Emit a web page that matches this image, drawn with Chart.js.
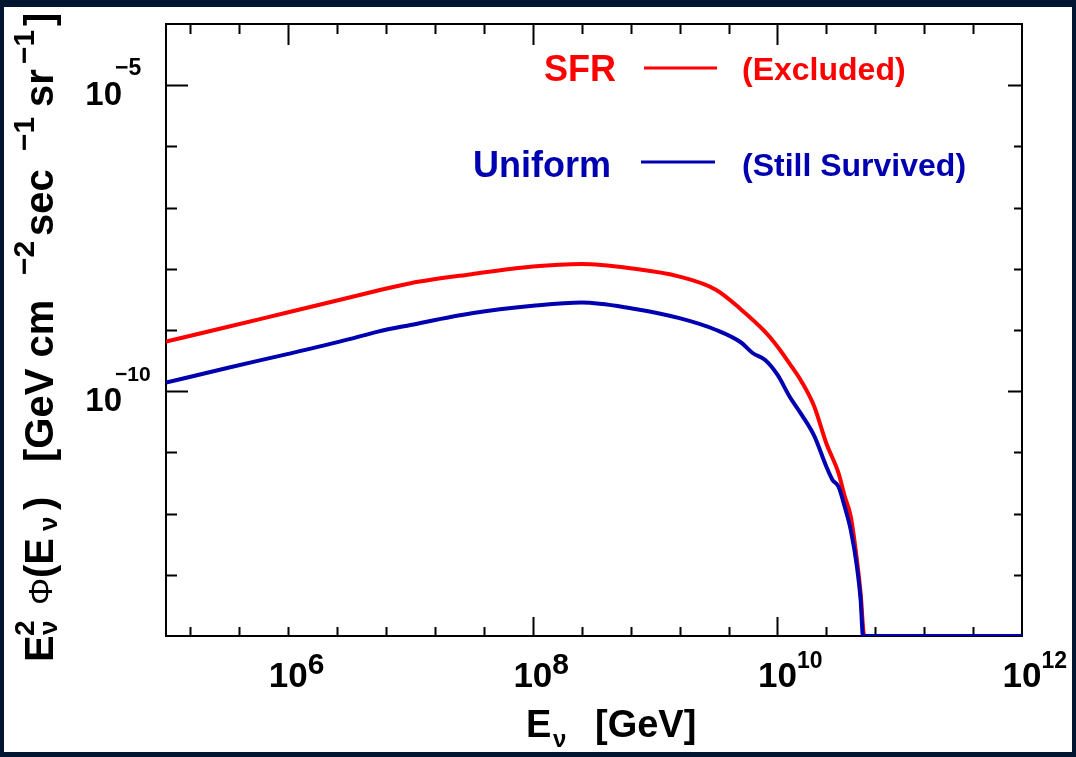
<!DOCTYPE html>
<html>
<head>
<meta charset="utf-8">
<script src="https://cdn.jsdelivr.net/npm/chart.js@4.4.1/dist/chart.umd.min.js"></script>
<style>
  html, body { margin: 0; padding: 0; background: #031631; }
  canvas { display: block; }
</style>
</head>
<body>
<canvas id="fluxChart" width="1076" height="757"></canvas>
<script>
// neutrino energy [GeV] and E^2 phi(E) [GeV cm^-2 s^-1 sr^-1]
const sfrEnergy = [1e5, 3.16e5, 1e6, 3.16e6, 5.41e6, 1e7, 3.16e7, 1e8, 2.51e8, 6.31e8, 1.58e9, 3.16e9,
  5.01e9, 7.94e9, 1e10, 1.26e10, 1.58e10, 2.0e10, 2.51e10, 3.16e10, 3.55e10, 3.98e10, 4.47e10,
  4.79e10, 5.13e10, 1e11, 1e12];
const sfrFlux = [6.46e-10, 1.12e-9, 1.95e-9, 3.39e-9, 4.41e-9, 5.82e-9, 8.17e-9, 1.09e-8, 1.20e-8, 1.02e-8,
  7.46e-9, 4.52e-9, 2.19e-9, 9.33e-10, 5.37e-10, 2.80e-10, 1.42e-10, 5.62e-11, 1.41e-11, 4.57e-12,
  1.91e-12, 8.91e-13, 1.74e-13, 5.0e-14, 1e-14, 1e-14, 1e-14];

const uniEnergy = [1e5, 3.16e5, 1e6, 3.16e6, 5.41e6, 1e7, 3.16e7, 1e8, 2.51e8, 6.31e8, 1.58e9, 3.16e9,
  5.01e9, 6.31e9, 7.94e9, 1e10, 1.26e10, 1.58e10, 2.0e10, 2.51e10, 2.82e10, 3.16e10, 3.55e10,
  3.98e10, 4.47e10, 4.79e10, 5.01e10, 1e11, 1e12];
const uniFlux = [1.38e-10, 2.40e-10, 4.07e-10, 7.08e-10, 9.42e-10, 1.21e-9, 1.88e-9, 2.48e-9, 2.81e-9, 2.27e-9,
  1.56e-9, 1.0e-9, 6.31e-10, 4.17e-10, 3.24e-10, 1.86e-10, 8.13e-11, 4.11e-11, 1.86e-11, 5.89e-12,
  3.55e-12, 2.75e-12, 1.29e-12, 5.37e-13, 1.35e-13, 3.89e-14, 1e-14, 1e-14, 1e-14];

const seriesNames = ['SFR', 'Uniform'];
const seriesNotes = ['(Excluded)', '(Still Survived)'];
const seriesColors = ['#ff0000', '#0000b0'];

// labelled decades on each axis
const xLabelExp = [6, 8, 10, 12];
const yLabelExp = [-5, -10];

const FONT = '"Liberation Sans", Arial, Helvetica, sans-serif';

function pts(xs, ys) {
  return xs.map((v, i) => ({ x: v, y: ys[i] }));
}

function txt(ctx, s, x, y, size, color, align, weight) {
  ctx.font = (weight || 'bold') + ' ' + size + 'px ' + FONT;
  ctx.fillStyle = color || '#000';
  ctx.textAlign = align || 'left';
  ctx.textBaseline = 'alphabetic';
  ctx.fillText(s, x, y);
}

function rotText(ctx, s, bx, startY, size, weight) {
  ctx.save();
  ctx.translate(bx, startY);
  ctx.rotate(-Math.PI / 2);
  txt(ctx, s, 0, 0, size, '#000', 'left', weight);
  ctx.restore();
}

// frame with inward ticks, PAW style
const pawFrame = {
  id: 'pawFrame',
  beforeDraw(chart) {
    const ctx = chart.ctx;
    ctx.save();
    ctx.fillStyle = '#031631';
    ctx.fillRect(0, 0, chart.width, chart.height);
    ctx.fillStyle = '#fff';
    ctx.fillRect(4, 7, 1068, 745);
    ctx.restore();
  },
  beforeDatasetsDraw(chart) {
    const { ctx, chartArea: a, scales: { x, y } } = chart;
    ctx.save();
    ctx.strokeStyle = '#000';
    ctx.lineWidth = 2;
    ctx.strokeRect(a.left, a.top, a.right - a.left, a.bottom - a.top);
    ctx.beginPath();
    for (let j = -2; j <= 14; j++) {
      const e = 6 + 0.4 * j;
      const px = Math.round(x.getPixelForValue(Math.pow(10, e))) + 0.5;
      const major = j % 5 === 0;
      const bot = major && j > 0 ? 19 : 9;
      const top = major ? 21 : 10;
      ctx.moveTo(px, a.bottom);
      ctx.lineTo(px, a.bottom - bot);
      ctx.moveTo(px, a.top);
      ctx.lineTo(px, a.top + top);
    }
    for (let e = -13; e <= -5; e++) {
      const py = Math.round(y.getPixelForValue(Math.pow(10, e))) + 0.5;
      const major = e % 5 === 0;
      ctx.moveTo(a.left, py);
      ctx.lineTo(a.left + (major ? 22 : 11), py);
      ctx.moveTo(a.right, py);
      ctx.lineTo(a.right - (major ? 14 : 8), py);
    }
    ctx.stroke();
    ctx.restore();
  },
  afterDraw(chart) {
    const { ctx, scales: { x, y } } = chart;
    ctx.save();

    // x tick labels
    xLabelExp.forEach(e => {
      const px = x.getPixelForValue(Math.pow(10, e));
      txt(ctx, '10', px, 687, 35, '#000', 'center');
      ctx.font = 'bold 35px ' + FONT;
      const half = ctx.measureText('10').width / 2;
      const s = String(e);
      if (s.length === 1) txt(ctx, s, px + half, 674, 30);
      else txt(ctx, s, px + half, 668, 23);
    });

    // y tick labels
    yLabelExp.forEach(e => {
      const py = y.getPixelForValue(Math.pow(10, e));
      txt(ctx, '10', 122, py + 20, 33, '#000', 'right');
      txt(ctx, '\u2212' + (-e), 115, py - 10, e <= -10 ? 21 : 23);
    });

    // axis titles
    txt(ctx, 'E', 526, 737, 38);
    txt(ctx, '\u03bd', 553, 747, 24);
    txt(ctx, '[GeV]', 595, 737, 38);

    const yTitle = [
      ['E', 53, 662, 40], ['2', 34, 636, 28], ['\u03bd', 57, 635, 26],
      ['\u03a6', 52, 605, 34, 'normal'], ['(E', 53, 578, 40], ['\u03bd', 57, 531, 26], [')', 53, 510, 40],
      ['[GeV cm', 53, 462, 40], ['\u22122', 34, 275, 30], ['sec', 53, 236, 40],
      ['\u22121', 34, 151, 30], ['sr', 53, 107, 40], ['\u22121', 34, 64, 30], [']', 53, 26, 40]
    ];
    yTitle.forEach(s => rotText(ctx, s[0], s[1], s[2], s[3], s[4]));

    // legend
    const rows = [
      { name: 0, nx: 544, lx0: 644, lx1: 717, ly: 68, base: 81 },
      { name: 1, nx: 473, lx0: 641, lx1: 715, ly: 162, base: 177 }
    ];
    rows.forEach(r => {
      const c = seriesColors[r.name];
      txt(ctx, seriesNames[r.name], r.nx, r.base, 36, c);
      ctx.strokeStyle = c;
      ctx.lineWidth = 3;
      ctx.beginPath();
      ctx.moveTo(r.lx0, r.ly);
      ctx.lineTo(r.lx1, r.ly);
      ctx.stroke();
      txt(ctx, seriesNotes[r.name], 742, r.base - 1, 32, c);
    });
    ctx.restore();
  }
};

new Chart(document.getElementById('fluxChart'), {
  type: 'line',
  data: {
    datasets: [{
      label: seriesNames[1],
      data: pts(uniEnergy, uniFlux),
      borderColor: seriesColors[1],
      borderWidth: 4,
      pointRadius: 0,
      cubicInterpolationMode: 'monotone'
    }, {
      label: seriesNames[0],
      data: pts(sfrEnergy, sfrFlux),
      borderColor: seriesColors[0],
      borderWidth: 4,
      pointRadius: 0,
      cubicInterpolationMode: 'monotone'
    }]
  },
  options: {
    responsive: false,
    animation: false,
    events: [],
    layout: { padding: { left: 166, top: 24, right: 54, bottom: 121 } },
    plugins: { legend: { display: false }, tooltip: { enabled: false } },
    scales: {
      x: { type: 'logarithmic', min: 1e5, max: 1e12, display: false },
      y: { type: 'logarithmic', min: 1e-14, max: 1e-4, display: false }
    }
  },
  plugins: [pawFrame]
});
</script>
</body>
</html>
